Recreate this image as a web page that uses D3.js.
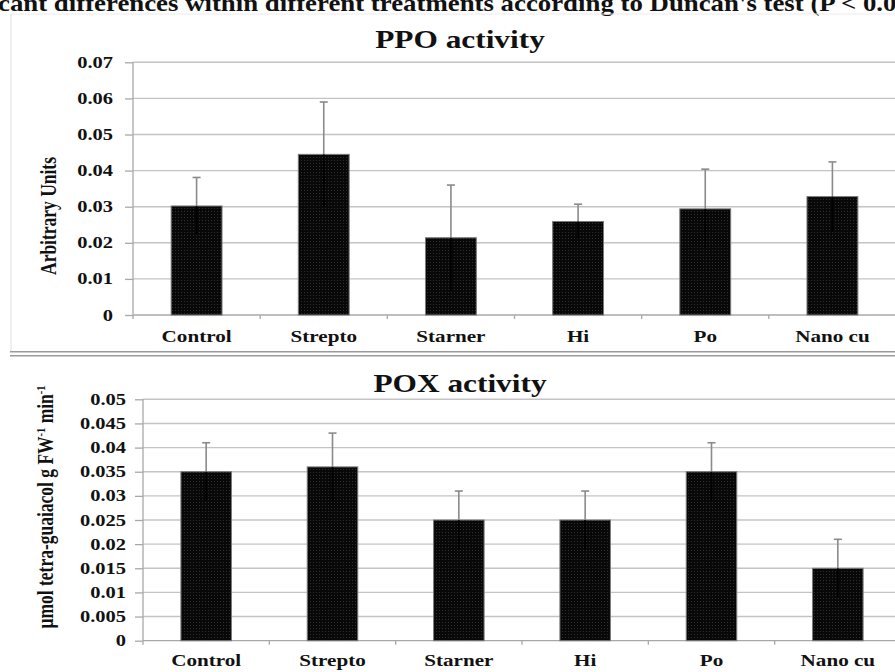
<!DOCTYPE html>
<html>
<head>
<meta charset="utf-8">
<script src="https://cdn.jsdelivr.net/npm/d3@7"></script>
<style>
  html, body { margin: 0; padding: 0; background: #fff; }
  svg { display: block; }
  text { font-family: "Liberation Serif", "Times New Roman", serif; font-weight: bold; fill: #111; }
</style>
</head>
<body>
<svg id="chart" width="895" height="672"></svg>
<script>
// Treatments shown on both charts
const categories = ["Control", "Strepto", "Starner", "Hi", "Po", "Nano cu"];

// PPO activity (arbitrary units) with standard errors
const ppoValues = [0.0302, 0.0445, 0.0214, 0.0259, 0.0294, 0.0328];
const ppoErrors = [0.0079, 0.0145, 0.0146, 0.0048, 0.0110, 0.0096];
const ppoTicks = [0, 0.01, 0.02, 0.03, 0.04, 0.05, 0.06, 0.07];

// POX activity (µmol tetra-guaiacol g FW-1 min-1) with standard errors
const poxValues = [0.035, 0.036, 0.025, 0.025, 0.035, 0.015];
const poxErrors = [0.006, 0.007, 0.006, 0.006, 0.006, 0.006];
const poxTicks = [0, 0.005, 0.01, 0.015, 0.02, 0.025, 0.03, 0.035, 0.04, 0.045, 0.05];

// caption line above the charts; the figure frame crops it at both ends
const headlineShown = "cant differences within different treatments according to Duncan's test (P < 0.0";
const headlineRest = "5)";

const svg = d3.select("#chart");
const SX = 1.28;            // horizontal stretch of the lettering
const gridColor = "#c4c4c4";
const axisColor = "#a8a8a8";
const errColor = "#8a8a8a";

// dotted dark fill used for the bars
const defs = svg.append("defs");
const pat = defs.append("pattern").attr("id", "dots")
  .attr("width", 3).attr("height", 3).attr("patternUnits", "userSpaceOnUse");
pat.append("rect").attr("width", 3).attr("height", 3).attr("fill", "#080808");
pat.append("rect").attr("x", 1).attr("y", 1).attr("width", 1).attr("height", 1).attr("fill", "#2e2e2e");

function stretchedText(g, x, y, str, size, anchor) {
  return g.append("text")
    .attr("transform", `translate(${x},${y}) scale(${SX},1)`)
    .attr("text-anchor", anchor || "middle")
    .attr("font-size", size)
    .text(str);
}

function fmt(v) { return v === 0 ? "0" : String(+v.toFixed(3)); }

function drawPanel(opt) {
  const g = svg.append("g");
  const x = d3.scaleBand().domain(categories)
    .range([opt.x0, opt.x1]).paddingInner(0.6).paddingOuter(0.3);
  const y = d3.scaleLinear().domain([0, opt.ticks[opt.ticks.length - 1]])
    .range([opt.yBottom, opt.yTop]);

  // horizontal gridlines
  g.append("g").selectAll("line").data(opt.ticks.filter(t => t > 0)).join("line")
    .attr("x1", opt.x0).attr("x2", 895)
    .attr("y1", d => y(d)).attr("y2", d => y(d))
    .attr("stroke", gridColor).attr("stroke-width", 1.4);

  // y axis with ticks pointing left
  const yAxis = d3.axisLeft(y).tickValues(opt.ticks).tickSize(8).tickFormat("");
  const ya = g.append("g").attr("transform", `translate(${opt.x0},0)`).call(yAxis);
  ya.select(".domain").remove();
  ya.selectAll(".tick line").attr("stroke", axisColor).attr("stroke-width", 1.3);
  g.append("line").attr("x1", opt.x0).attr("x2", opt.x0)
    .attr("y1", y(opt.ticks[opt.ticks.length - 1])).attr("y2", opt.yBottom + 4)
    .attr("stroke", axisColor).attr("stroke-width", 1.3);

  // y tick labels
  opt.ticks.forEach(t => {
    stretchedText(g, opt.labelRight, y(t) + 5.5, fmt(t), 16, "end");
  });

  // x axis line and category separators
  g.append("line").attr("x1", opt.x0).attr("x2", 895)
    .attr("y1", opt.yBottom).attr("y2", opt.yBottom)
    .attr("stroke", axisColor).attr("stroke-width", 1.3);
  const bounds = categories.map(c => x(c) - x.step() * x.paddingInner() / 2);
  g.append("g").selectAll("line").data(bounds.slice(1)).join("line")
    .attr("x1", d => d).attr("x2", d => d)
    .attr("y1", opt.yBottom).attr("y2", opt.yBottom + 4)
    .attr("stroke", axisColor).attr("stroke-width", 1.3);

  // bars
  g.append("g").selectAll("rect").data(opt.values).join("rect")
    .attr("x", (d, i) => x(categories[i]))
    .attr("y", d => y(d))
    .attr("width", x.bandwidth())
    .attr("height", d => opt.yBottom - y(d))
    .attr("fill", "url(#dots)")
    .attr("stroke", "#7a7a7a").attr("stroke-width", 1);

  // error bars: grey above the bar, dark inside it
  const cx = i => x(categories[i]) + x.bandwidth() / 2;
  const eb = g.append("g");
  opt.values.forEach((v, i) => {
    const e = opt.errors[i];
    eb.append("line").attr("x1", cx(i)).attr("x2", cx(i))
      .attr("y1", y(v + e)).attr("y2", y(v))
      .attr("stroke", errColor).attr("stroke-width", 1.6);
    eb.append("line").attr("x1", cx(i)).attr("x2", cx(i))
      .attr("y1", y(v)).attr("y2", y(v - e))
      .attr("stroke", "#000").attr("stroke-width", 1.6);
    eb.append("line").attr("x1", cx(i) - 4).attr("x2", cx(i) + 4)
      .attr("y1", y(v + e)).attr("y2", y(v + e))
      .attr("stroke", errColor).attr("stroke-width", 1.6);
  });

  // category labels
  categories.forEach(c => {
    stretchedText(g, x(c) + x.bandwidth() / 2, opt.catBaseline, c, 16.5, "middle");
  });

  // chart title
  stretchedText(g, opt.titleX, opt.titleBaseline, opt.title, 24.5, "middle");

  // rotated y axis title
  const yt = g.append("text")
    .attr("transform", `translate(${opt.yTitleX},${opt.yTitleY}) scale(${SX},1) rotate(-90)`)
    .attr("text-anchor", "middle")
    .attr("font-size", opt.yTitleSize);
  opt.yTitle.forEach(part => {
    const ts = yt.append("tspan").text(part.t);
    if (part.sup) ts.attr("font-size", opt.yTitleSize * 0.6).attr("dy", -6);
    if (part.down) ts.attr("dy", 6);
  });
}

// caption: the visible part is fitted across the page width
const head = svg.append("text").attr("font-size", 24).attr("x", 0).attr("y", 0);
head.append("tspan").text(headlineShown);
const shownWidth = head.node().getComputedTextLength();
head.append("tspan").text(headlineRest);
head.attr("transform", `translate(-2,10.5) scale(${899 / shownWidth},1)`);

// frame around the upper chart and the double rule under it
svg.append("line").attr("x1", 11).attr("x2", 895).attr("y1", 14).attr("y2", 14)
  .attr("stroke", "#ececec").attr("stroke-width", 1.2);
svg.append("line").attr("x1", 11).attr("x2", 11).attr("y1", 14).attr("y2", 352)
  .attr("stroke", "#e4e4e4").attr("stroke-width", 1.2);
[351.7, 355.7].forEach(yy => {
  svg.append("line").attr("x1", 10).attr("x2", 895).attr("y1", yy).attr("y2", yy)
    .attr("stroke", "#9a9a9a").attr("stroke-width", 1.4);
});

drawPanel({
  x0: 133, x1: 896, yTop: 62.3, yBottom: 315,
  ticks: ppoTicks, values: ppoValues, errors: ppoErrors,
  labelRight: 113, catBaseline: 341.5,
  title: "PPO activity", titleX: 460, titleBaseline: 48.3,
  yTitle: [{ t: "Arbitrary Units" }], yTitleX: 56, yTitleY: 216, yTitleSize: 17.5
});

drawPanel({
  x0: 143, x1: 901, yTop: 399.3, yBottom: 640.7,
  ticks: poxTicks, values: poxValues, errors: poxErrors,
  labelRight: 126, catBaseline: 666,
  title: "POX activity", titleX: 460, titleBaseline: 391.7,
  yTitle: [{ t: "µmol tetra-guaiacol  g FW" }, { t: "-1", sup: true }, { t: " min", down: true }, { t: "-1", sup: true }],
  yTitleX: 53, yTitleY: 507, yTitleSize: 17.5
});
</script>
</body>
</html>
